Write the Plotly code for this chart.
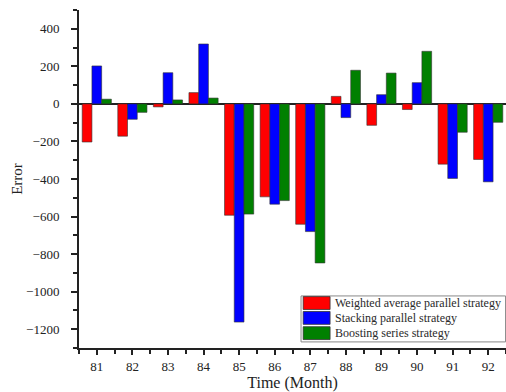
import plotly.graph_objects as go

months = [81, 82, 83, 84, 85, 86, 87, 88, 89, 90, 91, 92]
weighted = [-203, -172, -16, 60, -593, -495, -641, 40, -114, -30, -321, -296]
stacking = [202, -82, 166, 319, -1162, -534, -680, -73, 49, 113, -397, -415]
boosting = [25, -45, 21, 31, -587, -515, -847, 179, 164, 280, -151, -98]

names = ["Weighted average parallel strategy", "Stacking parallel strategy", "Boosting series strategy"]
colors = ["#ff0000", "#0000ff", "#008000"]

FONT = "Times New Roman, Liberation Serif, serif"

fig = go.Figure()
for name, vals, c in zip(names, [weighted, stacking, boosting], colors):
    fig.add_trace(go.Bar(x=months, y=vals, name=name,
                         marker=dict(color=c, line=dict(color="#333333", width=0.6))))

# Legend box drawn in paper coordinates (compact Origin-style legend)
shapes = [dict(type="rect", xref="paper", yref="paper", x0=0.52, x1=0.999, y0=0.018, y1=0.154,
               line=dict(color="#888888", width=1), fillcolor="white", layer="above")]
annotations = []
row_y = [0.133, 0.089, 0.044]
for name, c, yy in zip(names, colors, row_y):
    shapes.append(dict(type="rect", xref="paper", yref="paper", x0=0.525, x1=0.588,
                       y0=yy - 0.019, y1=yy + 0.019, line=dict(color="#333333", width=0.8),
                       fillcolor=c, layer="above"))
    annotations.append(dict(xref="paper", yref="paper", x=0.594, y=yy, xanchor="left", yanchor="middle",
                            text=name, showarrow=False,
                            font=dict(family=FONT, size=12, color="#2a2a2a")))

fig.update_layout(
    width=506, height=392,
    margin=dict(l=79, r=0, t=10, b=44),
    paper_bgcolor="white", plot_bgcolor="white",
    barmode="group", bargap=0.18, bargroupgap=0,
    font=dict(family=FONT, size=13, color="#222222"),
    showlegend=False,
    shapes=shapes, annotations=annotations,
)
fig.update_xaxes(range=[80.5, 92.5], tickvals=months, ticktext=[str(m) for m in months],
                 showline=True, linecolor="#222222", linewidth=2, ticks="outside", ticklen=5,
                 tickwidth=1.5, tickcolor="#222222", showgrid=False, zeroline=False,
                 minor=dict(dtick=0.5, tick0=80.5, ticks="outside", ticklen=4, tickwidth=1.5, tickcolor="#222222"),
                 title=dict(text="Time (Month)", font=dict(family=FONT, size=16), standoff=4),
                 tickfont=dict(family=FONT, size=13, color="#222222"))
fig.update_yaxes(range=[-1300, 500], tickvals=[-1200, -1000, -800, -600, -400, -200, 0, 200, 400],
                 showline=True, linecolor="#222222", linewidth=2, ticks="outside", ticklen=6,
                 tickwidth=1.5, tickcolor="#222222", showgrid=False,
                 zeroline=True, zerolinecolor="#222222", zerolinewidth=1.5,
                 minor=dict(dtick=100, tick0=0, ticks="outside", ticklen=4, tickwidth=1.5, tickcolor="#222222"),
                 ticklabelstandoff=9,
                 title=dict(text="Error", font=dict(family=FONT, size=15), standoff=0),
                 tickfont=dict(family=FONT, size=13, color="#222222"))
fig.write_html("out.html")
